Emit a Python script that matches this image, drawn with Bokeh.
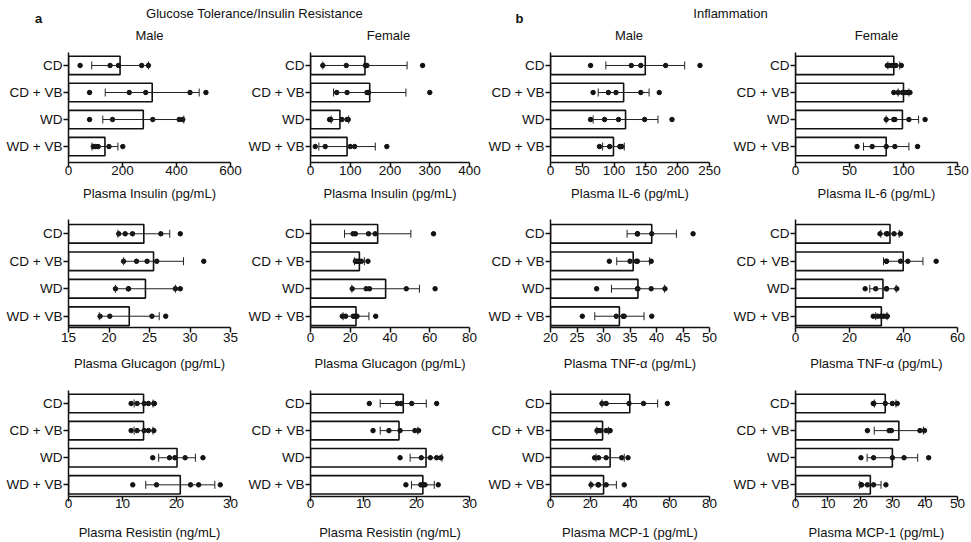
from bokeh.plotting import figure
from bokeh.layouts import column, row
from bokeh.models import Range1d, FixedTicker, Whisker, ColumnDataSource, TeeHead
from bokeh.embed import file_html
from bokeh.resources import INLINE
from bokeh.core.properties import value

FONT = "Liberation Sans"

groups = ["CD", "CD + VB", "WD", "WD + VB"]

# ---------------- data ----------------
# Row 1: Plasma Insulin (male, female), Plasma IL-6 (male, female)
insulin_m_mean = [191, 310, 277, 135]
insulin_m_sd = [105, 174, 150, 48]
insulin_m_pts = [[43, 154, 185, 271, 296], [78, 225, 286, 450, 509],
                 [78, 163, 312, 410, 423], [92, 100, 110, 150, 201]]

insulin_f_mean = [137, 149, 74, 92]
insulin_f_sd = [106, 91, 22, 71]
insulin_f_pts = [[31, 90, 138, 142, 282], [66, 92, 146, 142, 300],
                 [48, 51, 79, 92, 95], [12, 37, 100, 111, 192]]

il6_m_mean = [149, 115, 118, 99]
il6_m_sd = [62, 40, 51, 17]
il6_m_pts = [[63, 127, 142, 181, 235], [67, 91, 103, 142, 171],
             [63, 85, 107, 148, 191], [77, 93, 109, 110, 112]]

il6_f_mean = [91, 100, 99, 84]
il6_f_sd = [5.5, 5, 15, 21]
il6_f_pts = [[85, 86, 89, 91, 93, 98], [91, 95, 99, 102, 104, 106],
             [84, 91, 92, 105, 120], [57, 71, 84, 92, 113]]

# Row 2: Plasma Glucagon (male, female), Plasma TNF-α (male, female)
glucagon_m_mean = [24.3, 25.5, 24.5, 22.5]
glucagon_m_sd = [3.2, 3.7, 3.7, 3.7]
glucagon_m_pts = [[21.2, 22.0, 22.9, 26.4, 28.8], [21.8, 23.4, 24.7, 25.9, 31.7],
                  [20.8, 22.4, 22.4, 28.2, 28.8], [18.9, 20.1, 25.3, 27.0]]

glucagon_f_mean = [33.8, 24.6, 37.8, 22.9]
glucagon_f_sd = [16.7, 2.5, 17, 6.5]
glucagon_f_pts = [[21.4, 22.6, 29.2, 32.5, 61.9], [22.6, 23.1, 23.9, 24.6, 25.6, 28.9],
                  [21, 28, 29.7, 48.2, 62.7], [16, 17.7, 21.5, 22.6, 23.4, 32.8]]

tnf_m_mean = [39.1, 35.6, 36.5, 33.0]
tnf_m_sd = [4.65, 3.1, 5.0, 4.65]
tnf_m_pts = [[36.4, 36.4, 36.4, 39.1, 46.9], [31.1, 35.0, 36.2, 36.4, 39.0],
             [28.7, 36.4, 36.5, 39.0, 41.6], [26.0, 32.4, 33.7, 33.9, 39.1]]

tnf_f_mean = [35.0, 39.9, 32.4, 31.8]
tnf_f_sd = [3.4, 7.3, 4.9, 2.1]
tnf_f_pts = [[31.3, 33.7, 34.0, 36.5, 38.9], [33.7, 33.7, 38.9, 41.6, 52.1],
             [25.8, 29.7, 33.7, 33.7, 37.5], [28.8, 30.4, 31.6, 32.6, 33.7, 34.0]]

# Row 3: Plasma Resistin (male, female), Plasma MCP-1 (male, female)
resistin_m_mean = [13.9, 13.9, 20.1, 20.7]
resistin_m_sd = [1.75, 1.75, 3.4, 6.4]
resistin_m_pts = [[11.6, 12.7, 14.0, 14.8, 15.8, 15.9], [11.6, 12.7, 14.0, 14.8, 15.8],
                  [15.6, 18.7, 19.7, 21.6, 24.9], [11.9, 16.3, 22.6, 24.1, 28.1]]

resistin_f_mean = [17.5, 16.7, 21.8, 21.2]
resistin_f_sd = [4.35, 3.55, 3.0, 2.15]
resistin_f_pts = [[11.1, 16.4, 17.1, 19.1, 23.8], [11.8, 14.8, 16.9, 19.7, 20.4],
                  [16.9, 20.9, 22.6, 23.8, 24.6], [18.0, 20.8, 21.2, 21.6, 24.1]]

mcp1_m_mean = [39.9, 26.2, 30.0, 26.7]
mcp1_m_sd = [14, 2.9, 7.1, 6.45]
mcp1_m_pts = [[25.9, 28.0, 39.5, 46.8, 58.8], [23.4, 23.7, 25.0, 28.0, 29.7, 30.0],
              [22.2, 24.2, 28.0, 35.8, 39.0], [20.4, 23.9, 24.2, 28.0, 37.1]]

mcp1_f_mean = [27.7, 31.9, 29.9, 23.1]
mcp1_f_sd = [3.3, 7.6, 7.8, 3.3]
mcp1_f_pts = [[24.0, 24.2, 27.7, 29.9, 31.4], [22.2, 28.9, 29.6, 38.4, 39.8],
              [20.2, 24.1, 29.9, 33.5, 41.1], [20.2, 20.4, 22.2, 24.1, 27.9]]

# axis labels / ranges / ticks
titles = ["Male", "Female", "Male", "Female"]
section_titles = ["Glucose Tolerance/Insulin Resistance", "Inflammation"]
section_letters = ["a", "b"]
x_labels = [
    ["Plasma Insulin (pg/mL)", "Plasma Insulin (pg/mL)", "Plasma IL-6 (pg/mL)", "Plasma IL-6 (pg/mL)"],
    ["Plasma Glucagon (pg/mL)", "Plasma Glucagon (pg/mL)", "Plasma TNF-α (pg/mL)", "Plasma TNF-α (pg/mL)"],
    ["Plasma Resistin (ng/mL)", "Plasma Resistin (ng/mL)", "Plasma MCP-1 (pg/mL)", "Plasma MCP-1 (pg/mL)"],
]
x_ticks = [
    [[0, 200, 400, 600], [0, 100, 200, 300, 400], [0, 50, 100, 150, 200, 250], [0, 50, 100, 150]],
    [[15, 20, 25, 30, 35], [0, 20, 40, 60, 80], [20, 25, 30, 35, 40, 45, 50], [0, 20, 40, 60]],
    [[0, 10, 20, 30], [0, 10, 20, 30], [0, 20, 40, 60, 80], [0, 10, 20, 30, 40, 50]],
]
means = [[insulin_m_mean, insulin_f_mean, il6_m_mean, il6_f_mean],
         [glucagon_m_mean, glucagon_f_mean, tnf_m_mean, tnf_f_mean],
         [resistin_m_mean, resistin_f_mean, mcp1_m_mean, mcp1_f_mean]]
sds = [[insulin_m_sd, insulin_f_sd, il6_m_sd, il6_f_sd],
       [glucagon_m_sd, glucagon_f_sd, tnf_m_sd, tnf_f_sd],
       [resistin_m_sd, resistin_f_sd, mcp1_m_sd, mcp1_f_sd]]
points = [[insulin_m_pts, insulin_f_pts, il6_m_pts, il6_f_pts],
          [glucagon_m_pts, glucagon_f_pts, tnf_m_pts, tnf_f_pts],
          [resistin_m_pts, resistin_f_pts, mcp1_m_pts, mcp1_f_pts]]

# ---------------- layout (pixels) ----------------
HEADER_H = 44
col_left = [68, 62, 63, 67]
col_frame = [162, 162, 161, 162]
col_right = [15, 16, 19, 14]
row_top = [8, 12, 17]
row_frame = [110, 108, 108]
row_bottom = [45, 46, 44]
row_yrange = [(-0.59, 3.48), (-0.41, 3.52), (-0.43, 3.48)]
tick_label_standoff = [-2, 0, -3]
label_standoff = [8, 11, 14]


def make_panel(r, c):
    ticks = x_ticks[r][c]
    xmin, xmax = ticks[0], ticks[-1]
    ypos = [len(groups) - 1 - i for i in range(len(groups))]
    p = figure(
        width=col_left[c] + col_frame[c] + col_right[c],
        height=row_top[r] + row_frame[r] + row_bottom[r],
        x_range=Range1d(xmin, xmax),
        y_range=Range1d(*row_yrange[r]),
        output_backend="svg", toolbar_location=None,
        min_border_left=col_left[c], min_border_right=col_right[c],
        min_border_top=row_top[r], min_border_bottom=row_bottom[r],
    )
    p.outline_line_color = None
    p.xgrid.visible = False
    p.ygrid.visible = False

    m = means[r][c]
    e = sds[r][c]
    p.hbar(y=ypos, left=xmin, right=m, height=0.68,
           fill_color="white", line_color="#111111", line_width=1.6)

    src = ColumnDataSource(dict(base=ypos,
                                lower=[mi - ei for mi, ei in zip(m, e)],
                                upper=[mi + ei for mi, ei in zip(m, e)]))
    w = Whisker(base="base", lower="lower", upper="upper", dimension="width",
                source=src, line_color="#222222", line_width=1,
                lower_head=TeeHead(size=8, line_color="#222222", line_width=1),
                upper_head=TeeHead(size=8, line_color="#222222", line_width=1),
                level="glyph")
    p.add_layout(w)

    xs, ys = [], []
    for yi, pts in zip(ypos, points[r][c]):
        xs += pts
        ys += [yi] * len(pts)
    p.scatter(xs, ys, size=4.5, color="#111111")

    for ax in (p.xaxis[0], p.yaxis[0]):
        ax.axis_line_color = "#111111"
        ax.axis_line_width = 1.5
        ax.major_tick_line_color = "#111111"
        ax.major_tick_line_width = 1.5
        ax.major_tick_out = 5
        ax.major_tick_in = 0
        ax.minor_tick_out = 0
        ax.minor_tick_in = 0
        ax.major_label_text_font = FONT
        ax.major_label_text_font_size = "13.5px"
        ax.major_label_text_color = "#111111"
    p.xaxis.ticker = FixedTicker(ticks=ticks)
    p.xaxis.major_label_standoff = tick_label_standoff[r]
    p.yaxis.ticker = FixedTicker(ticks=ypos)
    p.yaxis.major_label_overrides = {y: g for y, g in zip(ypos, groups)}
    p.yaxis.major_label_standoff = 1
    p.xaxis.axis_label = x_labels[r][c]
    p.xaxis.axis_label_text_font = FONT
    p.xaxis.axis_label_text_font_size = "13px"
    p.xaxis.axis_label_text_font_style = "normal"
    p.xaxis.axis_label_text_color = "#111111"
    p.xaxis.axis_label_standoff = label_standoff[r]
    return p


# header strip with section titles and the Male/Female panel titles
header = figure(width=971, height=HEADER_H, x_range=Range1d(0, 971), y_range=Range1d(HEADER_H, 0),
                output_backend="svg", toolbar_location=None, min_border=0,
                x_axis_type=None, y_axis_type=None)
header.outline_line_color = None
header.xgrid.visible = False
header.ygrid.visible = False
header.text(x=[38, 519], y=[18, 18], text=section_letters, text_align="center",
            text_baseline="middle", text_font=value(FONT), text_font_size="13px",
            text_font_style="bold", text_color="#111111")
header.text(x=[254, 730], y=[13, 13], text=section_titles,
            text_align="center", text_baseline="middle", text_font=value(FONT),
            text_font_size="13px", text_color="#111111")
# centres of the four plot frames
frame_centres = []
x0 = 0
for c in range(4):
    frame_centres.append(x0 + col_left[c] + col_frame[c] / 2)
    x0 += col_left[c] + col_frame[c] + col_right[c]
header.text(x=frame_centres, y=[35] * 4, text=titles,
            text_align="center", text_baseline="middle", text_font=value(FONT),
            text_font_size="13px", text_color="#111111")

rows = [row(*[make_panel(r, c) for c in range(4)], spacing=0) for r in range(3)]
layout = column(header, *rows, spacing=0)

open("out.html", "w").write(file_html(layout, INLINE))
